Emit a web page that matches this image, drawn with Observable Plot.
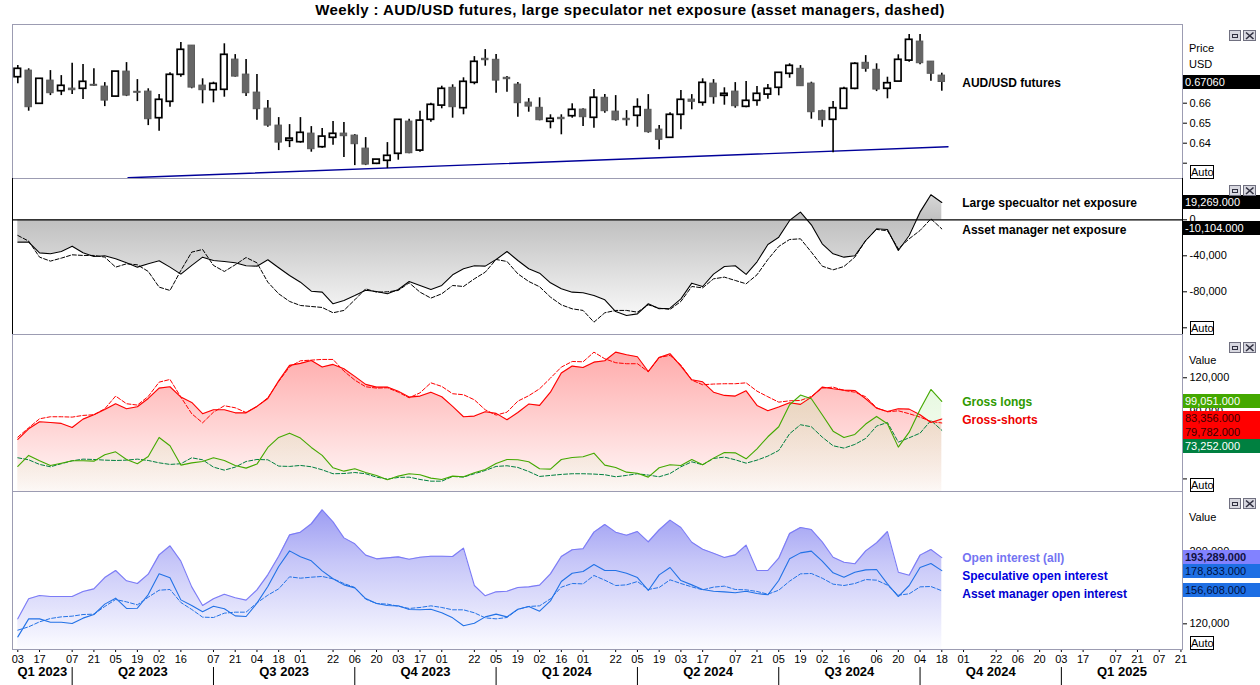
<!DOCTYPE html>
<html><head><meta charset="utf-8">
<script src="https://cdn.jsdelivr.net/npm/d3@7"></script>
<script src="https://cdn.jsdelivr.net/npm/@observablehq/plot@0.6"></script>
<style>
body{margin:0;background:#fff;font-family:"Liberation Sans",Arial,sans-serif;}
#wrap{position:relative;width:1260px;height:685px;overflow:hidden;background:#fff}
#title{position:absolute;left:0;top:1px;width:1260px;text-align:center;font:bold 15px "Liberation Sans",Arial,sans-serif;letter-spacing:0.4px;color:#000}
.box{position:absolute;left:1183px;width:77px;height:14px;font:11px "Liberation Sans",Arial,sans-serif;line-height:14px;padding-left:2px;box-sizing:border-box;white-space:nowrap;overflow:hidden}
.auto{position:absolute;left:1190px;width:22px;height:12px;border:1px solid #000;font:11px "Liberation Sans",Arial,sans-serif;line-height:12px;text-align:center;background:#fff}
.hdr{position:absolute;left:1189px;font:11px "Liberation Sans",Arial,sans-serif;line-height:12px;color:#000}
.icon{position:absolute;left:1229px;width:30px;height:12px}
</style></head><body><div id="wrap"><div id="title">Weekly : AUD/USD futures, large speculator net exposure (asset managers, dashed)</div></div>
<script>
// ---------------- DATA ----------------
const firstWeek = "2023-03-03"; // weekly (Friday) observations
const open  = [0.6730,0.6763,0.6597,0.6713,0.6660,0.6673,0.6672,0.6692,0.6683,0.6633,0.6758,0.6657,0.6658,0.6525,0.6607,0.6742,0.6888,0.6688,0.6665,0.6667,0.6818,0.6743,0.6653,0.6573,0.6488,0.6412,0.6405,0.6448,0.6380,0.6427,0.6448,0.6438,0.6373,0.6297,0.6312,0.6347,0.6508,0.6363,0.6517,0.6588,0.6677,0.6575,0.6702,0.6822,0.6817,0.6727,0.6693,0.6603,0.6577,0.6507,0.6527,0.6535,0.6568,0.6527,0.6627,0.6558,0.6522,0.6537,0.6567,0.6468,0.6427,0.6542,0.6618,0.6602,0.6698,0.6637,0.6658,0.6582,0.6612,0.6643,0.6677,0.6747,0.6772,0.6698,0.6560,0.6517,0.6572,0.6672,0.6802,0.6767,0.6672,0.6708,0.6813,0.6908,0.6808,0.6738];
const high  = [0.6788,0.6772,0.6722,0.6763,0.6738,0.6800,0.6793,0.6772,0.6703,0.6758,0.6803,0.6718,0.6672,0.6643,0.6752,0.6903,0.6888,0.6722,0.6705,0.6897,0.6843,0.6818,0.6743,0.6613,0.6528,0.6493,0.6528,0.6483,0.6473,0.6508,0.6503,0.6443,0.6428,0.6318,0.6403,0.6517,0.6520,0.6560,0.6600,0.6685,0.6692,0.6727,0.6833,0.6868,0.6843,0.6733,0.6703,0.6623,0.6627,0.6542,0.6542,0.6597,0.6572,0.6668,0.6643,0.6638,0.6563,0.6622,0.6643,0.6488,0.6552,0.6663,0.6643,0.6722,0.6718,0.6677,0.6703,0.6708,0.6683,0.6693,0.6752,0.6797,0.6788,0.6705,0.6565,0.6608,0.6680,0.6802,0.6838,0.6797,0.6730,0.6842,0.6943,0.6943,0.6808,0.6750];
const low   = [0.6697,0.6560,0.6597,0.6638,0.6638,0.6643,0.6618,0.6683,0.6583,0.6630,0.6633,0.6608,0.6488,0.6460,0.6580,0.6730,0.6672,0.6597,0.6602,0.6630,0.6730,0.6633,0.6515,0.6480,0.6363,0.6378,0.6400,0.6355,0.6375,0.6390,0.6328,0.6288,0.6288,0.6293,0.6273,0.6315,0.6347,0.6355,0.6505,0.6572,0.6525,0.6542,0.6692,0.6785,0.6650,0.6655,0.6530,0.6555,0.6512,0.6472,0.6442,0.6525,0.6483,0.6475,0.6550,0.6510,0.6485,0.6480,0.6450,0.6367,0.6427,0.6467,0.6567,0.6585,0.6595,0.6590,0.6575,0.6577,0.6585,0.6620,0.6637,0.6725,0.6685,0.6520,0.6480,0.6352,0.6568,0.6667,0.6755,0.6658,0.6622,0.6708,0.6805,0.6792,0.6710,0.6660];
const close = [0.6772,0.6580,0.6722,0.6650,0.6687,0.6665,0.6707,0.6687,0.6613,0.6758,0.6638,0.6652,0.6520,0.6617,0.6742,0.6867,0.6678,0.6665,0.6697,0.6842,0.6733,0.6650,0.6570,0.6488,0.6403,0.6423,0.6452,0.6370,0.6433,0.6447,0.6435,0.6395,0.6293,0.6318,0.6337,0.6517,0.6350,0.6513,0.6592,0.6672,0.6580,0.6707,0.6807,0.6815,0.6713,0.6720,0.6600,0.6583,0.6515,0.6522,0.6520,0.6567,0.6530,0.6627,0.6560,0.6515,0.6515,0.6580,0.6455,0.6417,0.6542,0.6617,0.6607,0.6702,0.6630,0.6647,0.6585,0.6612,0.6647,0.6672,0.6752,0.6787,0.6685,0.6555,0.6515,0.6575,0.6672,0.6797,0.6772,0.6668,0.6700,0.6817,0.6917,0.6800,0.6747,0.6706];
const trendDates = ["2023-05-13", "2024-10-22"];
const trendPrice = [0.6227, 0.6382];

// net exposure, thousands of contracts
const specNet = [-24.8,-24.8,-36.7,-37.8,-35.2,-29.3,-36.7,-40.7,-40.0,-43.3,-47.8,-52.6,-48.9,-45.6,-52.6,-60.4,-50.7,-41.5,-45.2,-46.3,-47.8,-51.1,-51.5,-44.4,-53.3,-61.9,-69.3,-79.3,-80.4,-93.3,-89.6,-84.1,-78.2,-79.6,-82.2,-77.4,-68.5,-72.9,-77.4,-72.9,-61.1,-54.4,-51.1,-51.5,-44.1,-35.2,-45.2,-54.4,-59.3,-70.0,-76.7,-80.4,-81.1,-84.1,-88.9,-101.9,-106.3,-104.5,-93.3,-98.9,-98.2,-87.8,-70.4,-74.1,-60.4,-51.9,-51.1,-60.7,-46.7,-27.4,-19.3,-0.7,8.5,-5.6,-26.7,-37.8,-41.5,-40.0,-23.0,-10.0,-10.7,-34.1,-17.4,8.5,27.8,19.269];
const amNet   = [-17.4,-23.7,-41.5,-45.9,-42.6,-38.9,-39.6,-39.6,-41.5,-52.6,-48.9,-50.0,-57.4,-74.8,-78.5,-56.3,-35.9,-33.0,-50.7,-57.4,-50.0,-41.9,-47.8,-69.3,-82.2,-90.7,-95.2,-96.3,-97.4,-103.3,-100.7,-88.9,-76.7,-80.4,-80.0,-78.5,-70.0,-80.4,-87.0,-82.2,-73.0,-74.1,-65.6,-58.2,-44.1,-46.3,-60.0,-68.5,-74.4,-85.9,-94.5,-98.9,-100.7,-113.7,-103.3,-100.7,-100.7,-102.6,-94.5,-98.2,-99.6,-90.7,-74.1,-75.6,-65.6,-63.7,-67.4,-71.1,-61.1,-44.1,-29.6,-21.9,-21.1,-35.9,-51.5,-55.6,-51.9,-41.5,-23.0,-10.7,-12.2,-32.2,-21.1,-11.9,1.1,-10.104];

// gross positions, thousands
const specLong  = [41.1,50.9,46.1,42.0,44.0,46.1,46.1,45.8,51.5,54.1,47.3,43.5,50.0,66.9,59.5,42.3,44.3,45.5,48.8,46.4,42.0,39.6,43.2,58.0,66.9,70.7,66.3,58.0,50.9,39.9,36.9,39.0,35.7,33.1,29.2,32.5,34.6,33.7,30.7,29.5,32.5,31.9,35.4,38.4,43.7,47.3,47.0,45.2,39.0,38.7,47.3,49.1,49.7,52.9,42.3,40.2,36.0,35.1,31.6,39.9,42.6,42.0,47.3,42.6,48.5,53.5,53.2,47.9,56.8,67.5,76.4,96.0,104.6,101.3,87.1,72.5,66.9,69.6,78.8,85.6,79.1,58.3,71.6,91.8,109.6,99.051];
const specShort = [65.1,74.6,80.8,80.2,79.4,75.8,83.2,87.1,91.8,96.9,92.4,94.2,101.6,110.8,112.0,102.8,98.0,88.0,91.5,91.5,88.8,88.8,94.5,101.6,117.3,131.0,132.8,135.4,129.5,131.9,128.0,121.2,114.1,111.7,111.7,108.1,102.8,103.7,107.2,103.1,94.5,85.3,85.9,89.7,88.3,82.6,89.1,96.6,95.4,107.2,124.2,130.4,129.2,133.9,135.1,142.8,140.5,138.7,125.6,138.1,141.4,130.4,118.2,116.4,107.2,104.3,103.7,108.4,95.4,90.6,93.9,97.7,96.3,102.8,111.7,110.2,109.0,108.7,101.3,93.0,90.0,92.4,92.1,87.1,80.2,83.356];
const amLong    = [48.8,47.0,42.9,40.8,43.5,46.1,47.6,47.3,46.7,46.4,46.7,47.6,46.4,44.3,42.9,43.5,48.8,47.0,40.5,37.8,40.5,45.5,47.3,47.0,41.4,41.1,42.0,40.8,38.1,34.6,34.8,35.7,34.6,31.6,29.8,31.3,31.6,29.5,28.0,28.0,32.2,31.6,34.6,37.5,41.1,41.7,40.2,36.6,32.2,33.1,34.0,34.6,34.6,34.3,33.7,31.9,33.1,34.6,33.4,31.9,34.8,40.8,45.2,42.6,48.2,49.4,47.0,44.0,46.7,50.3,55.3,70.2,78.2,76.4,67.2,59.5,57.4,60.7,66.0,77.0,80.2,62.7,66.6,70.7,82.0,73.252];
const amShort   = [67.2,75.5,83.5,85.3,85.3,85.0,86.5,87.1,92.4,103.7,96.9,95.7,103.4,116.1,118.5,102.8,88.0,79.9,89.4,95.1,93.3,89.1,94.5,102.2,116.7,129.8,135.1,135.7,136.3,136.3,125.9,117.9,112.0,110.8,111.1,107.2,102.2,106.6,115.5,112.3,105.8,104.9,100.4,91.5,86.8,89.4,99.2,104.0,110.2,119.7,129.5,134.5,134.2,142.8,136.9,133.4,132.5,132.5,125.3,138.1,139.9,131.3,117.9,113.8,114.4,114.7,114.7,115.5,108.1,103.1,98.3,99.5,99.8,103.4,110.8,111.7,108.7,107.2,103.1,93.3,89.7,90.6,88.0,85.0,81.1,79.782];

// open interest, thousands
const oiAll  = [125.5,147.7,151.3,150.2,150.2,150.2,155.8,158.7,171.2,179.0,167.6,164.6,174.9,196.3,206.3,189.3,160.9,140.3,147.7,152.8,148.8,146.2,157.6,174.2,194.8,218.4,221.4,230.6,246.1,232.8,215.1,208.5,196.0,191.9,193.0,194.1,191.5,193.7,194.8,194.8,194.5,203.7,162.4,151.0,155.4,156.1,160.2,160.9,162.8,175.3,194.5,201.9,203.0,221.4,229.9,221.4,218.1,222.1,210.7,224.0,234.7,226.6,210.3,202.6,198.2,193.4,196.3,207.0,179.0,179.0,192.6,219.9,226.6,224.3,210.7,193.7,188.2,186.4,200.7,209.6,222.1,177.1,173.8,196.0,202.2,193.289];
const oiSpec = [105.6,125.5,125.5,121.8,121.8,120.4,126.3,130.3,141.8,148.4,137.0,137.3,152.4,175.3,170.9,146.5,140.3,133.3,139.5,136.6,128.8,128.1,142.9,161.3,183.4,200.7,194.1,189.7,178.6,169.8,163.1,159.8,148.0,142.5,140.3,139.9,135.9,135.5,136.2,132.2,126.6,117.8,120.7,127.7,130.7,127.7,136.2,139.2,134.0,145.4,166.8,176.0,177.9,185.6,179.0,179.0,176.0,171.2,156.9,174.2,182.3,167.9,163.1,158.0,156.1,155.4,154.3,156.1,153.6,152.1,167.9,191.9,198.5,200.4,189.3,176.4,171.6,177.1,179.7,180.1,164.2,150.2,162.4,182.3,186.7,178.833];
const oiAM   = [113.0,116.7,122.2,125.9,127.7,128.5,130.3,130.7,139.2,146.9,144.3,141.0,149.5,157.2,158.0,143.6,135.9,127.4,127.0,131.8,132.9,132.9,143.2,151.7,158.7,172.0,170.5,171.6,172.4,169.8,164.6,160.2,147.3,142.5,141.8,139.5,137.0,138.1,139.9,138.1,135.5,135.5,132.2,126.6,125.5,127.0,135.9,139.2,139.9,147.7,160.6,164.6,164.2,173.5,168.3,162.4,163.1,166.8,158.0,160.2,168.7,164.6,160.9,157.6,160.6,161.7,158.0,157.6,155.8,152.8,157.2,167.2,175.3,175.7,170.5,163.9,162.4,164.6,169.0,168.3,162.8,151.7,153.2,160.9,161.3,156.608];

// axis labels
const tickDates = ["2023-03-03","2023-03-17","2023-04-07","2023-04-21","2023-05-05","2023-05-19","2023-06-02","2023-06-16","2023-07-07","2023-07-21","2023-08-04","2023-08-18","2023-09-01","2023-09-22","2023-10-06","2023-10-20","2023-11-03","2023-11-17","2023-12-01","2023-12-22","2024-01-05","2024-01-19","2024-02-02","2024-02-16","2024-03-01","2024-03-22","2024-04-05","2024-04-19","2024-05-03","2024-05-17","2024-06-07","2024-06-21","2024-07-05","2024-07-19","2024-08-02","2024-08-16","2024-09-06","2024-09-20","2024-10-04","2024-10-18","2024-11-01","2024-11-22","2024-12-06","2024-12-20","2025-01-03","2025-01-17","2025-02-07","2025-02-21","2025-03-07","2025-03-21"];
const quarterLabels = ["Q1 2023","Q2 2023","Q3 2023","Q4 2023","Q1 2024","Q2 2024","Q3 2024","Q4 2024","Q1 2025"];
const quarterStarts = ["2023-04-07","2023-07-07","2023-10-06","2024-01-05","2024-04-05","2024-07-05","2024-10-04","2025-01-03"];

// ---------------- BUILD ----------------
const t0 = new Date(firstWeek);
const dates = open.map((_, i) => d3.utcDay.offset(t0, 7 * i));
const lastDate = dates[dates.length - 1];
const candles = dates.map((d, i) => ({date: d, open: open[i], high: high[i], low: low[i], close: close[i], up: close[i] >= open[i]}));
const trend = trendDates.map((d, i) => ({date: new Date(d), price: trendPrice[i]}));
const rows = dates.map((d, i) => ({date: d, specNet: specNet[i], amNet: amNet[i], specLong: specLong[i], specShort: specShort[i], amLong: amLong[i], amShort: amShort[i], oiAll: oiAll[i], oiSpec: oiSpec[i], oiAM: oiAM[i]}));
const ticks = tickDates.map(s => new Date(s));
const qStarts = quarterStarts.map(s => new Date(s));

const xDomain = [new Date("2023-02-27T14:00Z"), new Date("2025-03-22T00:00Z")];
const bounds = [xDomain[0], ...qStarts, xDomain[1]];
const quarters = quarterLabels.map((q, i) => ({label: q, mid: new Date((+bounds[i] + +bounds[i + 1]) / 2)}));

const FRAME = "#9c9cb2";
const common = {width: 1260, marginLeft: 12, marginRight: 78, marginTop: 0,
  style: {fontFamily: "'Liberation Sans', Arial, sans-serif", fontSize: "11px", background: "transparent", color: "#000"}};
const xNone = {type: "utc", domain: xDomain, axis: null};
const thous = v => (Math.round(v * 1000)).toLocaleString("en-US");

const wrap = document.getElementById("wrap");
function mount(svg, top) { svg.style.position = "absolute"; svg.style.left = "0px"; svg.style.top = top + "px"; wrap.appendChild(svg); }
function el(cls, css, text) { const d = document.createElement("div"); d.className = cls; Object.assign(d.style, css); if (text != null) d.textContent = text; wrap.appendChild(d); return d; }
function grad(svg, id, y1, y2, stops) {
  const g = d3.select(svg).insert("defs", ":first-child").append("linearGradient")
    .attr("id", id).attr("gradientUnits", "userSpaceOnUse").attr("x1", 0).attr("x2", 0).attr("y1", y1).attr("y2", y2);
  stops.forEach(([o, c, a]) => g.append("stop").attr("offset", o).attr("stop-color", c).attr("stop-opacity", a == null ? 1 : a));
}
function boxes(chart, top, items, fmt) {
  const y = chart.scale("y"); let prev = -Infinity;
  items.map(it => ({...it, py: top + y.apply(it.v)})).sort((a, b) => a.py - b.py).forEach(it => {
    const c = Math.max(it.py, prev + 14); prev = c;
    el("box", {top: (c - 7) + "px", background: it.bg, color: it.fg, fontWeight: it.bold ? "bold" : "normal"}, fmt(it.v));
  });
}
function labels(chart, svg, items) {
  const x = chart.scale("x"), y = chart.scale("y"); let prev = -Infinity;
  const x0 = x.apply(lastDate) + 21;
  items.map(it => ({...it, py: y.apply(it.v)})).sort((a, b) => a.py - b.py).forEach(it => {
    const c = Math.max(it.py, prev + 18); prev = c;
    d3.select(svg).append("text").attr("x", x0).attr("y", c + 2).attr("dominant-baseline", "middle")
      .attr("text-anchor", "start")
      .attr("font-weight", "bold").attr("font-size", 12).attr("fill", it.color)
      .attr("font-family", "'Liberation Sans', Arial, sans-serif").text(it.text);
  });
}
const iconSvg = '<svg width="30" height="12" xmlns="http://www.w3.org/2000/svg"><rect x="0.5" y="0.5" width="11" height="10" fill="#d8d8e0" stroke="#707080"/><rect x="3.5" y="4.5" width="5" height="3" fill="none" stroke="#303040"/><rect x="14.5" y="0.5" width="12" height="10" fill="#d8d8e0" stroke="#707080"/><path d="M17 2.5 L24.5 9 M24.5 2.5 L17 9" stroke="#303040" stroke-width="1.6"/></svg>';
function icon(top) { const d = el("icon", {top: top + "px"}); d.innerHTML = iconSvg; }

// ---- Panel 1: AUD/USD weekly candles ----
const P1 = {top: 24, h: 154};
const c1 = Plot.plot({...common, height: P1.h, marginBottom: 0, x: xNone,
  y: {domain: [0.62235, 0.69935], axis: "right", ticks: [0.63, 0.64, 0.65, 0.66, 0.67], tickFormat: d => (d === 0.63 || d === 0.67) ? "" : d.toFixed(2), tickSize: 4, tickPadding: 3, label: null},
  marks: [
    Plot.frame({stroke: FRAME}),
    Plot.line(trend, {x: "date", y: "price", stroke: "#000099", strokeWidth: 1.4}),
    Plot.ruleX(candles, {x: "date", y1: "low", y2: "high", stroke: "#000", strokeWidth: 1.6}),
    Plot.rect(candles, {x1: d => d3.utcHour.offset(d.date, -50), x2: d => d3.utcHour.offset(d.date, 50),
      y1: d => Math.min(d.open, d.close), y2: d => Math.max(d.open, d.close),
      fill: d => d.up ? "#fff" : "#666", stroke: d => d.up ? "#000" : "#5a5a5a", strokeWidth: d => d.up ? 1.7 : 1})
  ]});
mount(c1, P1.top);
labels(c1, c1, [{v: close[close.length - 1], text: "AUD/USD futures", color: "#000"}]);
boxes(c1, P1.top, [{v: close[close.length - 1], bg: "#000", fg: "#fff"}], v => v.toFixed(5));

// ---- Panel 2: net exposure ----
const P2 = {top: 178, h: 156};
const c2 = Plot.plot({...common, height: P2.h, marginBottom: 0, x: xNone,
  y: {domain: [-127.437, 45.884], axis: "right", ticks: [-120, -80, -40, 0], tickFormat: d => d === -120 ? "" : thous(d), tickSize: 4, tickPadding: 3, label: null},
  marks: [
    Plot.areaY(rows, {x: "date", y1: 0, y2: "specNet", fill: "url(#g2)"}),
    Plot.frame({stroke: FRAME}),
    Plot.ruleX([xDomain[0], xDomain[1]], {stroke: "#000"}),
    Plot.ruleY([0], {stroke: "#000", strokeWidth: 1.3}),
    Plot.line(rows, {x: "date", y: "amNet", stroke: "#000", strokeWidth: 1, strokeDasharray: "4,2"}),
    Plot.line(rows, {x: "date", y: "specNet", stroke: "#000", strokeWidth: 1.1})
  ]});
grad(c2, "g2", 0, P2.h, [[0, "#e6e6e6"], [0.27, "#c0c0c0"], [0.96, "#ffffff"]]);
mount(c2, P2.top);
labels(c2, c2, [{v: specNet[specNet.length - 1], text: "Large specualtor net exposure", color: "#000"},
                {v: amNet[amNet.length - 1], text: "Asset manager net exposure", color: "#000"}]);
const fmt3 = v => (v * 1000).toLocaleString("en-US", {minimumFractionDigits: 3, maximumFractionDigits: 3});
boxes(c2, P2.top, [{v: specNet[specNet.length - 1], bg: "#000", fg: "#fff"}, {v: amNet[amNet.length - 1], bg: "#000", fg: "#fff"}], fmt3);

// ---- Panel 3: gross longs / shorts ----
const P3 = {top: 334, h: 157};
const y3 = [18.8, 158.5];
const c3 = Plot.plot({...common, height: P3.h, marginBottom: 0, x: xNone,
  y: {domain: y3, axis: "right", ticks: [30, 60, 90, 120], tickFormat: d => (d === 30 || d === 60) ? "" : thous(d), tickSize: 4, tickPadding: 3, label: null},
  marks: [
    Plot.areaY(rows, {x: "date", y1: y3[0], y2: "specShort", fill: "url(#g3r)"}),
    Plot.areaY(rows, {x: "date", y1: y3[0], y2: "specLong", fill: "url(#g3g)"}),
    Plot.frame({stroke: FRAME}),
    Plot.line(rows, {x: "date", y: "amShort", stroke: "#ff0000", strokeWidth: 1, strokeDasharray: "4,2"}),
    Plot.line(rows, {x: "date", y: "amLong", stroke: "#008040", strokeWidth: 1, strokeDasharray: "4,2"}),
    Plot.line(rows, {x: "date", y: "specShort", stroke: "#ff0000", strokeWidth: 1.1}),
    Plot.line(rows, {x: "date", y: "specLong", stroke: "#44a800", strokeWidth: 1.1})
  ]});
grad(c3, "g3r", 16, 156, [[0, "#ffaaaa"], [1, "#fff8f8"]]);
grad(c3, "g3g", 36, 156, [[0, "#c8f0b8", 0.5], [1, "#c8f0b8", 0.05]]);
mount(c3, P3.top);
labels(c3, c3, [{v: specLong[specLong.length - 1], text: "Gross longs", color: "#2e9a00"},
                {v: specShort[specShort.length - 1], text: "Gross-shorts", color: "#ee0000"}]);
boxes(c3, P3.top, [
  {v: specLong[specLong.length - 1], bg: "#44a800", fg: "#fff"},
  {v: specShort[specShort.length - 1], bg: "#ff0000", fg: "#3a0000"},
  {v: amShort[amShort.length - 1], bg: "#ff0000", fg: "#3a0000"},
  {v: amLong[amLong.length - 1], bg: "#008040", fg: "#fff"}], fmt3);

// ---- Panel 4: open interest + date axis ----
const P4 = {top: 491, h: 158};
const y4 = [91.6, 266.4];
const c4 = Plot.plot({...common, height: P4.h + 36, marginBottom: 36,
  x: {type: "utc", domain: xDomain, ticks: ticks, tickFormat: d3.utcFormat("%d"), tickSize: 3, tickPadding: 3, label: null},
  y: {domain: y4, axis: "right", ticks: [120, 160, 200], tickFormat: d => d === 160 ? "" : thous(d), tickSize: 4, tickPadding: 3, label: null},
  marks: [
    Plot.areaY(rows, {x: "date", y1: y4[0], y2: "oiAll", fill: "url(#g4)"}),
    Plot.frame({stroke: FRAME}),
    Plot.line(rows, {x: "date", y: "oiAM", stroke: "#2272e6", strokeWidth: 1, strokeDasharray: "4,2"}),
    Plot.line(rows, {x: "date", y: "oiSpec", stroke: "#2272e6", strokeWidth: 1.1}),
    Plot.line(rows, {x: "date", y: "oiAll", stroke: "#7b7bf6", strokeWidth: 1.1}),
    Plot.ruleX(qStarts, {stroke: "#000", strokeWidth: 1, insetTop: P4.h + 18, insetBottom: -36}),
    Plot.text(quarters, {x: "mid", text: "label", frameAnchor: "bottom", dy: 26, fontWeight: "bold", fontSize: 13, fill: "#000"})
  ]});
grad(c4, "g4", 12, 157, [[0, "#9898f2"], [0.4, "#c6c6f8"], [1, "#fbfbff"]]);
mount(c4, P4.top);
labels(c4, c4, [{v: oiAll[oiAll.length - 1], text: "Open interest (all)", color: "#7474f2"},
                {v: oiSpec[oiSpec.length - 1], text: "Speculative open interest", color: "#0000e0"},
                {v: oiAM[oiAM.length - 1], text: "Asset manager open interest", color: "#0000d0"}]);
boxes(c4, P4.top, [
  {v: oiAll[oiAll.length - 1], bg: "#8282ff", fg: "#101040", bold: true},
  {v: oiSpec[oiSpec.length - 1], bg: "#1e6fe4", fg: "#001040"},
  {v: oiAM[oiAM.length - 1], bg: "#1e6fe4", fg: "#001040"}], fmt3);

// ---- panel chrome ----
el("hdr", {top: "42px"}, "Price");
el("hdr", {top: "58px"}, "USD");
el("hdr", {top: "354px"}, "Value");
el("hdr", {top: "511px"}, "Value");
[165, 321, 478, 636].forEach(t => el("auto", {top: t + "px"}, "Auto"));
[28, 183, 340, 496].forEach(t => icon(t));
</script></body></html>
